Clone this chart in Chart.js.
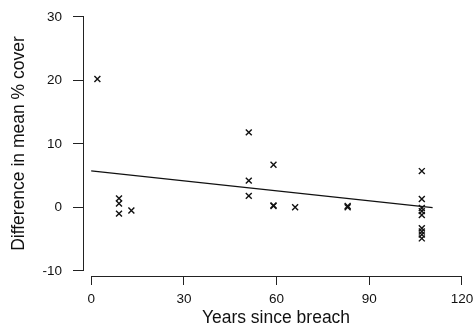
<!DOCTYPE html>
<html>
<head>
<meta charset="utf-8">
<script src="https://cdn.jsdelivr.net/npm/chart.js@4"></script>
<style>
html,body{margin:0;padding:0;background:#fff;}
#wrap{width:475px;height:327px;}
</style>
</head>
<body>
<div id="wrap"><canvas id="c" width="475" height="327"></canvas></div>
<script>
// Data
const years = [2, 9, 9, 9, 13, 51, 51, 51, 59, 59, 59, 66, 83, 83,
  107, 107, 107, 107, 107, 107, 107, 107, 107];
const diffCover = [20.2, 1.4, 0.6, -1.0, -0.5, 11.8, 4.2, 1.8, 6.7, 0.2, 0.3, 0.0, 0.0, 0.2,
  5.7, 1.3, -0.1, -0.6, -1.2, -3.3, -3.8, -4.3, -4.9];
const fitX = [0, 110.5];
const fitY = [5.75, -0.05];
const xTicks = [0, 30, 60, 90, 120];
const yTicks = [-10, 0, 10, 20, 30];
const xTitle = 'Years since breach';
const yTitle = 'Difference in mean % cover';

const ink = '#111';
const axisInk = '#222';
const fontFam = '"Liberation Sans", Arial, sans-serif';

const axisLines = {
  id: 'axisLines',
  afterDraw(chart) {
    const ctx = chart.ctx;
    const xs = chart.scales.x, ys = chart.scales.y;
    ctx.save();
    ctx.strokeStyle = axisInk;
    ctx.lineWidth = 1;
    const yl = Math.round(ys.right) - 0.5;
    ctx.beginPath();
    ctx.moveTo(yl, ys.getPixelForValue(yTicks[yTicks.length - 1]));
    ctx.lineTo(yl, ys.getPixelForValue(yTicks[0]));
    ctx.stroke();
    const xl = Math.round(xs.top) + 0.5;
    ctx.beginPath();
    ctx.moveTo(xs.getPixelForValue(xTicks[0]), xl);
    ctx.lineTo(xs.getPixelForValue(xTicks[xTicks.length - 1]), xl);
    ctx.stroke();
    ctx.restore();
  }
};

new Chart(document.getElementById('c'), {
  data: {
    datasets: [
      {
        type: 'scatter',
        data: years.map((x, i) => ({x: x, y: diffCover[i]})),
        pointStyle: 'crossRot',
        pointRadius: 4.2,
        pointHoverRadius: 4.2,
        borderColor: ink,
        backgroundColor: ink,
        pointBorderWidth: 1.4,
        order: 1
      },
      {
        type: 'line',
        data: fitX.map((x, i) => ({x: x, y: fitY[i]})),
        borderColor: ink,
        borderWidth: 1.3,
        pointRadius: 0,
        fill: false,
        order: 2
      }
    ]
  },
  options: {
    responsive: false,
    animation: false,
    events: [],
    layout: {padding: {top: 0, right: 7, left: 0, bottom: 0}},
    plugins: {legend: {display: false}, tooltip: {enabled: false}},
    scales: {
      x: {
        type: 'linear',
        position: 'bottom',
        min: -2.33,
        max: 121.95,
        afterBuildTicks: s => { s.ticks = xTicks.map(v => ({value: v})); },
        afterFit: s => { s.height = 51; },
        grid: {drawOnChartArea: false, drawTicks: true, tickLength: 9, color: axisInk, lineWidth: 1},
        border: {display: false},
        ticks: {color: '#111', font: {family: fontFam, size: 13.5, lineHeight: 2.07}, padding: 0, maxRotation: 0, autoSkip: false},
        title: {display: true, text: xTitle, color: '#111', font: {family: fontFam, size: 17.5, lineHeight: 1}, padding: {top: 0, bottom: 0.5}}
      },
      y: {
        type: 'linear',
        position: 'left',
        min: -10.82,
        max: 30.9,
        afterBuildTicks: s => { s.ticks = yTicks.map(v => ({value: v})); },
        afterFit: s => { s.width = 84; },
        grid: {drawOnChartArea: false, drawTicks: true, tickLength: 11, color: axisInk, lineWidth: 1},
        border: {display: false},
        ticks: {color: '#111', font: {family: fontFam, size: 13.5, lineHeight: 0.01}, padding: 11, autoSkip: false},
        title: {display: true, text: yTitle, color: '#111', font: {family: fontFam, size: 17.5, lineHeight: 1}, padding: {top: 10, bottom: 0}}
      }
    }
  },
  plugins: [axisLines]
});
</script>
</body>
</html>
